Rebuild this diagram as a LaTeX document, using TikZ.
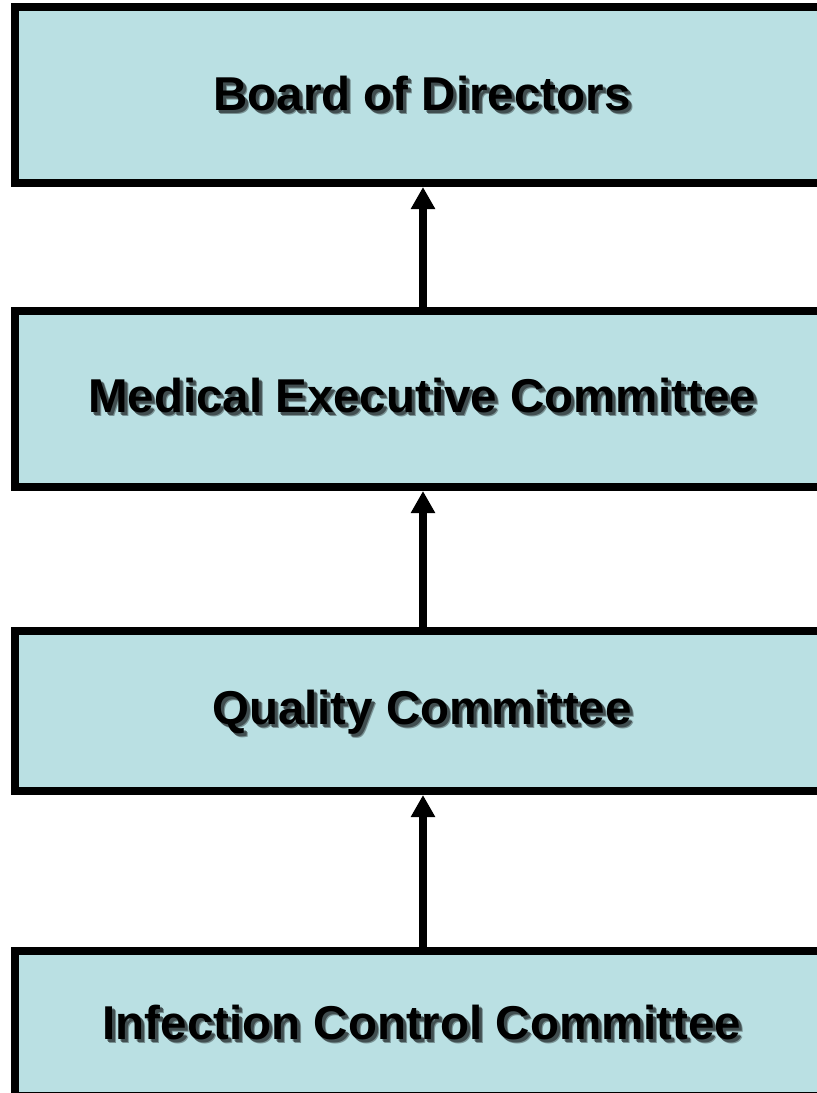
\documentclass[tikz,border=0pt]{standalone}
\usepackage{fontspec}
\setmainfont{Liberation Sans}
\usetikzlibrary{arrows.meta}
\definecolor{boxfill}{RGB}{186,224,227}
\colorlet{shadowcore}{boxfill!35!black}
\colorlet{shadowhalo}{boxfill!65!black}
% text with a soft drop shadow set behind it in the same box
\newcommand\shadowed[1]{\leavevmode
  \rlap{\kern4pt\raisebox{-4pt}{\color{shadowhalo}#1}}%
  \rlap{\kern2pt\raisebox{-2pt}{\color{shadowhalo}#1}}%
  \rlap{\kern3pt\raisebox{-3pt}{\color{shadowcore}#1}}%
  #1}
\begin{document}
\begin{tikzpicture}[x=1pt,y=-1pt,
  orgbox/.style={draw=black, line width=8pt, fill=boxfill, rectangle,
    minimum width=816pt, inner sep=0pt},
  lbl/.style={font=\bfseries\fontsize{47.5}{57}\selectfont, text=black, inner sep=0pt},
  uparrow/.style={line width=8pt, -{Triangle[length=22pt,width=23pt]}}
]
\useasboundingbox (0,0) rectangle (817,1093);
\clip (0,0) rectangle (817,1093);

% committee boxes
\node[orgbox, minimum height=176pt] (board) at (423,95) {};
\node[orgbox, minimum height=176pt] (mec) at (423,399) {};
\node[orgbox, minimum height=160pt] (qc) at (423,711) {};
\node[orgbox, minimum height=145pt] (icc) at (423,1023.5) {};

% labels
\node[lbl] (board-t) at ([xshift=-1pt,yshift=-1pt]board.center) {\shadowed{Board of Directors}};
\node[lbl] (mec-t) at ([xshift=-1pt,yshift=1pt]mec.center) {\shadowed{Medical Executive Committee}};
\node[lbl] (qc-t) at ([xshift=-1pt,yshift=-3pt]qc.center) {\shadowed{Quality Committee}};
\node[lbl] (icc-t) at ([xshift=-1pt,yshift=-1pt]icc.center) {\shadowed{Infection Control Committee}};

% reporting lines
\draw[uparrow] (mec.north) -- (board.south);
\draw[uparrow] (qc.north) -- (mec.south);
\draw[uparrow] (icc.north) -- (qc.south);
\end{tikzpicture}
\end{document}
